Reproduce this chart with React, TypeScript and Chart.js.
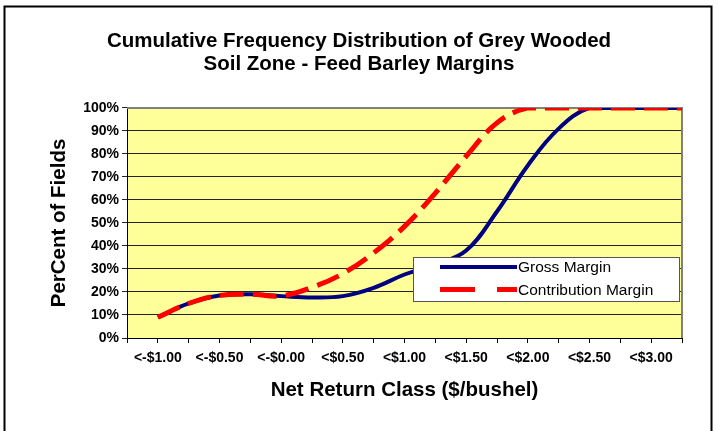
import { useEffect, useRef } from 'react';
import { Chart, registerables } from 'chart.js';

Chart.register(...registerables);

const FONT = "'Liberation Sans', Arial, Helvetica, sans-serif";

const titleLines = ['Cumulative Frequency Distribution of Grey Wooded', 'Soil Zone - Feed Barley Margins'];
const xAxisTitle = 'Net Return Class ($/bushel)';
const yAxisTitle = 'PerCent of Fields';

const categories = ['', '<-$1.00', '', '<-$0.50', '', '<-$0.00', '', '<$0.50', '', '<$1.00', '', '<$1.50', '', '<$2.00', '', '<$2.50', '', '<$3.00', ''];
const grossMargin = [null, 9, 15, 18.5, 19, 18.2, 17.6, 18.2, 21.8, 27.6, 32, 38, 55, 75, 91, 100, 100, 100, 100];
const contributionMargin = [null, 9, 15, 18.5, 19, 18.3, 22, 28, 37, 48.5, 63, 79, 93.5, 100, 100, 100, 100, 100, 100];
const seriesNames = ['Gross Margin', 'Contribution Margin'];
const yTicks = [0, 10, 20, 30, 40, 50, 60, 70, 80, 90, 100];

const framePlugin = {
  id: 'framePlugin',
  beforeDraw(chart: any) {
    const { ctx, chartArea: a } = chart;
    ctx.save();
    ctx.fillStyle = '#ffffff';
    ctx.fillRect(0, 0, chart.width, chart.height);
    ctx.fillStyle = '#FFFF99';
    ctx.fillRect(a.left, a.top, a.right - a.left, a.bottom - a.top);
    ctx.strokeStyle = '#000';
    ctx.lineWidth = 2;
    ctx.strokeRect(4.5, 6.5, 707, 440);
    ctx.restore();
  },
  beforeDatasetsDraw(chart: any) {
    const { ctx, chartArea: a } = chart;
    ctx.save();
    ctx.strokeStyle = '#808080';
    ctx.lineWidth = 2;
    ctx.beginPath();
    ctx.moveTo(a.left, a.top);
    ctx.lineTo(a.right, a.top);
    ctx.lineTo(a.right, a.bottom);
    ctx.stroke();
    ctx.restore();
  },
  afterDatasetsDraw(chart: any) {
    const { ctx } = chart;
    const ds = chart.data.datasets;
    ctx.save();
    ctx.fillStyle = '#fff';
    ctx.fillRect(413, 257, 267, 45);
    ctx.strokeStyle = '#555';
    ctx.lineWidth = 1;
    ctx.strokeRect(413.5, 257.5, 266, 44);
    const rows = [
      { y: 267, dash: [] as number[], ds: ds[0] },
      { y: 289.5, dash: [35, 22], ds: ds[1] },
    ];
    rows.forEach((r) => {
      ctx.beginPath();
      ctx.setLineDash(r.dash);
      ctx.lineCap = 'butt';
      ctx.strokeStyle = r.ds.borderColor;
      ctx.lineWidth = r.ds.borderWidth;
      ctx.moveTo(440, r.y);
      ctx.lineTo(517, r.y);
      ctx.stroke();
    });
    ctx.setLineDash([]);
    ctx.fillStyle = '#000';
    ctx.font = `15.5px ${FONT}`;
    ctx.textBaseline = 'middle';
    ctx.textAlign = 'left';
    ctx.fillText(ds[0].label, 518, 268);
    ctx.fillText(ds[1].label, 518, 290.5);
    ctx.restore();
  },
};

export default function App() {
  const ref = useRef<HTMLCanvasElement | null>(null);

  useEffect(() => {
    document.body.style.margin = '0';
    const canvas = ref.current;
    if (!canvas) return;
    const chart = new Chart(canvas, {
      type: 'line',
      data: {
        labels: categories,
        datasets: [
          {
            label: seriesNames[0],
            data: grossMargin,
            borderColor: '#000080',
            borderWidth: 4,
            pointRadius: 0,
            tension: 0.4,
            fill: false,
            order: 1,
          },
          {
            label: seriesNames[1],
            data: contributionMargin,
            borderColor: '#FF0000',
            borderWidth: 5,
            borderDash: [24, 9],
            borderCapStyle: 'butt',
            pointRadius: 0,
            tension: 0.4,
            fill: false,
            order: 0,
          },
        ],
      },
      options: {
        responsive: false,
        animation: false,
        layout: { padding: { left: 0, right: 0, top: 0, bottom: 0 } },
        plugins: {
          legend: { display: false },
          tooltip: { enabled: false },
          title: {
            display: true,
            text: titleLines,
            color: '#000',
            font: { family: FONT, size: 20.5, weight: 'bold', lineHeight: 1.12 },
            padding: { top: 29.5, bottom: 32.5 },
          },
        },
        scales: {
          x: {
            type: 'category',
            offset: false,
            grid: { display: true, drawOnChartArea: false, drawTicks: true, tickLength: 5, color: '#000' },
            border: { color: '#000', width: 1 },
            ticks: {
              autoSkip: false,
              maxRotation: 0,
              minRotation: 0,
              color: '#000',
              padding: 7,
              font: { family: FONT, size: 14, weight: 'bold' },
            },
            title: {
              display: true,
              text: xAxisTitle,
              color: '#000',
              font: { family: FONT, size: 20.5, weight: 'bold', lineHeight: 1.2 },
              padding: { top: 0, bottom: 28.7 },
            },
            afterFit(s: any) {
              s.height = 93;
            },
          },
          y: {
            min: yTicks[0],
            max: yTicks[yTicks.length - 1],
            afterBuildTicks(s: any) {
              s.ticks = yTicks.map((v) => ({ value: v }));
            },
            grid: { color: '#222', lineWidth: 1, drawTicks: true, tickLength: 5 },
            border: { color: '#000', width: 1 },
            ticks: {
              color: '#000',
              padding: 3,
              font: { family: FONT, size: 14, weight: 'bold' },
              callback: (v: any) => `${v}%`,
            },
            title: {
              display: true,
              text: yAxisTitle,
              color: '#000',
              font: { family: FONT, size: 20.5, weight: 'bold', lineHeight: 1.2 },
              padding: { top: 46.7, bottom: 0 },
            },
            afterFit(s: any) {
              s.width = 127;
            },
          },
          yRight: {
            position: 'right',
            min: yTicks[0],
            max: yTicks[yTicks.length - 1],
            grid: { display: false, drawOnChartArea: false },
            border: { display: false },
            ticks: { display: false },
            afterFit(s: any) {
              s.width = 36;
            },
          },
        },
      },
      plugins: [framePlugin],
    } as any);
    return () => chart.destroy();
  }, []);

  return (
    <div style={{ width: 718, height: 431 }}>
      <canvas ref={ref} width={718} height={431} style={{ display: 'block' }} />
    </div>
  );
}
